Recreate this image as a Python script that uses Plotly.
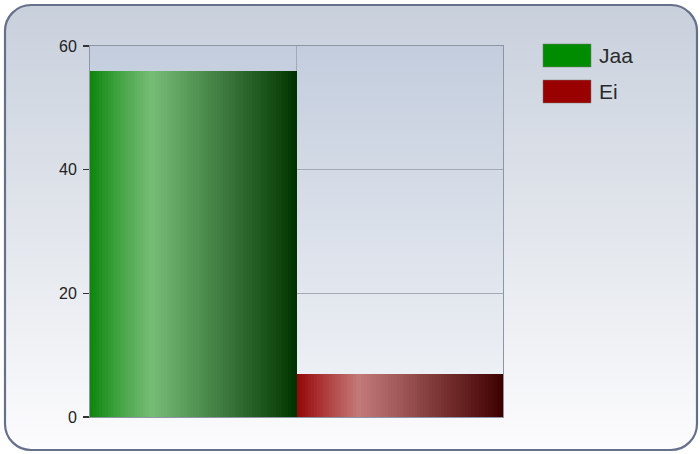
import base64
import plotly.graph_objects as go

# ---- data ----
series = ["Jaa", "Ei"]
values = [56, 7]
legend_colors = ["#008c00", "#990000"]
y_ticks = [0, 20, 40, 60]

# horizontal "cylinder" shading stops for each series (position, rgb)
green_stops = [(0.0, (12, 135, 12)), (0.12, (60, 160, 60)), (0.30, (118, 188, 118)),
               (0.50, (85, 150, 85)), (0.75, (45, 102, 45)), (0.93, (12, 68, 12)), (1.0, (0, 48, 0))]
red_stops = [(0.0, (145, 5, 5)), (0.10, (168, 45, 45)), (0.30, (196, 122, 122)),
             (0.50, (160, 88, 88)), (0.75, (112, 42, 42)), (0.93, (78, 12, 12)), (1.0, (58, 0, 0))]
shading = [green_stops, red_stops]

W, H = 700, 454
ML, MR, MT, MB = 90, 197, 46, 37
PW, PH = W - ML - MR, H - MT - MB


def interp(stops, t):
    for (p0, c0), (p1, c1) in zip(stops[:-1], stops[1:]):
        if p0 <= t <= p1:
            f = (t - p0) / (p1 - p0) if p1 > p0 else 0
            c = [round(a + (b - a) * f) for a, b in zip(c0, c1)]
            return f"rgb({c[0]},{c[1]},{c[2]})"
    c = stops[-1][1]
    return f"rgb({c[0]},{c[1]},{c[2]})"


N = 70
fig = go.Figure()
for i, (name, val) in enumerate(zip(series, values)):
    xs = [i + (k + 0.5) / N for k in range(N)]
    cols = [interp(shading[i], (k + 0.5) / N) for k in range(N)]
    fig.add_trace(go.Bar(x=xs, y=[val] * N, width=1 / N, name=name,
                         marker=dict(color=cols, line=dict(width=0)),
                         showlegend=False, hoverinfo="skip"))


def svg_uri(svg):
    return "data:image/svg+xml;base64," + base64.b64encode(svg.encode()).decode()


panel_svg = (f'<svg xmlns="http://www.w3.org/2000/svg" width="{W}" height="{H}">'
             '<defs><linearGradient id="g" x1="0" y1="0" x2="0" y2="1">'
             '<stop offset="0" stop-color="#c8d0dc"/><stop offset="0.5" stop-color="#e2e6ec"/>'
             '<stop offset="1" stop-color="#fcfcfd"/></linearGradient></defs>'
             '<rect x="5" y="5" width="692" height="445" rx="26" ry="26" fill="url(#g)" '
             'stroke="#66708a" stroke-width="2.2"/></svg>')
plot_svg = ('<svg xmlns="http://www.w3.org/2000/svg" width="100" height="100" preserveAspectRatio="none">'
            '<defs><linearGradient id="p" x1="0" y1="0" x2="0" y2="1">'
            '<stop offset="0" stop-color="#c3cddd"/><stop offset="1" stop-color="#f2f4f7"/>'
            '</linearGradient></defs><rect x="0" y="0" width="100" height="100" fill="url(#p)"/></svg>')

images = [
    dict(source=svg_uri(panel_svg), xref="paper", yref="paper",
         x=-ML / PW, y=1 + MT / PH, sizex=W / PW, sizey=H / PH,
         sizing="stretch", layer="below", xanchor="left", yanchor="top"),
    dict(source=svg_uri(plot_svg), xref="paper", yref="paper",
         x=0, y=1, sizex=1, sizey=1, sizing="stretch", layer="below",
         xanchor="left", yanchor="top"),
]

# custom legend (large swatches)
shapes, annotations = [], []
for i, (name, col) in enumerate(zip(series, legend_colors)):
    top = 44 + i * 36
    x0, x1 = (543 - ML) / PW, (591 - ML) / PW
    y0, y1 = 1 - (top + 23 - MT) / PH, 1 - (top - MT) / PH
    shapes.append(dict(type="rect", xref="paper", yref="paper", x0=x0, x1=x1, y0=y0, y1=y1,
                       fillcolor=col, line=dict(color="rgba(120,120,120,0.5)", width=1)))
    annotations.append(dict(text=name, xref="paper", yref="paper", x=(597 - ML) / PW,
                            y=(y0 + y1) / 2, xanchor="left", yanchor="middle", showarrow=False,
                            font=dict(family="Liberation Sans, Arial", size=21, color="#2a2a2a")))

fig.update_layout(
    width=W, height=H,
    margin=dict(l=ML, r=MR, t=MT, b=MB),
    paper_bgcolor="white",
    plot_bgcolor="rgba(0,0,0,0)",
    barmode="overlay",
    bargap=0,
    showlegend=False,
    images=images,
    shapes=shapes,
    annotations=annotations,
    xaxis=dict(range=[0, len(series)], tickvals=list(range(len(series) + 1)),
               showticklabels=False, ticks="", showgrid=True, gridcolor="#a3aab6",
               gridwidth=1, zeroline=False, showline=True, linecolor="#8f96a3", linewidth=1,
               mirror=True, fixedrange=True),
    yaxis=dict(range=[0, 60], tickvals=y_ticks, ticks="outside", ticklen=6,
               tickcolor="#333", tickwidth=1.5, showgrid=True, gridcolor="#a3aab6",
               gridwidth=1, zeroline=False, showline=True, linecolor="#8f96a3", linewidth=1,
               mirror=True, ticklabelstandoff=3,
               tickfont=dict(family="Liberation Sans, Arial", size=16, color="#222"),
               fixedrange=True),
)

fig.write_html("out.html", config={"displayModeBar": False, "staticPlot": True},
               post_script="document.body.style.margin='0';document.body.style.padding='0';")
